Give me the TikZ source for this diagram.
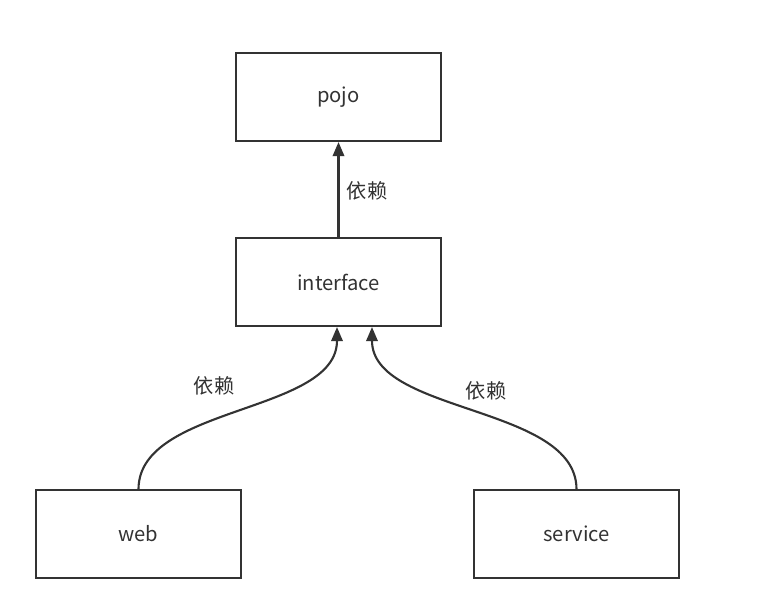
\documentclass[tikz,border=0pt]{standalone}
\usepackage{fontspec}
\setmainfont{Noto Sans CJK SC}
\usetikzlibrary{arrows.meta}
\definecolor{linegray}{HTML}{333333}
\tikzset{
  modbox/.style={draw=linegray,line width=1.2pt,minimum width=4.1cm,minimum height=1.76cm,font=\fontsize{11.5pt}{13pt}\selectfont,text=linegray},
  dep/.style={draw=linegray,line width=1.2pt,-{Triangle[length=8pt,width=6.5pt]}},
  deplabel/.style={font=\fontsize{11.5pt}{13pt}\selectfont,text=linegray}
}
\begin{document}
\begin{tikzpicture}[x=0.02cm,y=-0.02cm]
\useasboundingbox (0,0) rectangle (775,605);
% modules
\node[modbox] (pojo) at (338.5,97) {pojo};
\node[modbox] (interface) at (338.5,282) {interface};
\node[modbox] (web) at (138.5,534) {web};
\node[modbox] (service) at (576.5,534) {service};
% dependencies
\draw[dep] (interface.north) -- (pojo.south);
\draw[dep] (web.north) .. controls (139,405) and (337,414) .. ([xshift=-0.03cm]interface.south);
\draw[dep] (service.north) .. controls (576,405) and (372,414) .. ([xshift=0.67cm]interface.south);
% labels
\node[deplabel] (lblA) at (367,191) {依赖};
\node[deplabel] (lblB) at (214,386) {依赖};
\node[deplabel] (lblC) at (486,391) {依赖};
\end{tikzpicture}
\end{document}
